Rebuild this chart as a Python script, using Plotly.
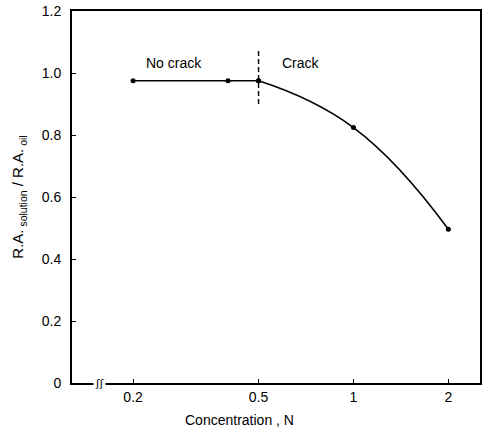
import math
import plotly.graph_objects as go

# Measured ratio vs. solution concentration
conc = [0.2, 0.4, 0.5, 1.0, 2.0]
ratio = [0.975, 0.975, 0.975, 0.824, 0.496]

# Boundary between the two regimes
boundary_x = [0.5, 0.5]
boundary_y = [0.90, 1.075]

x_tickvals = [0.2, 0.5, 1, 2]
x_ticktext = ["0.2", "0.5", "1", "2"]
y_tickvals = [0, 0.2, 0.4, 0.6, 0.8, 1.0, 1.2]
y_ticktext = ["0", "0.2", "0.4", "0.6", "0.8", "1.0", "1.2"]

regions = ["No crack", "Crack"]
region_x = [0.27, 0.68]
region_y = [1.033, 1.033]

FONT = "Liberation Sans, Arial, sans-serif"
k = conc.index(0.5)

fig = go.Figure()
# flat part (no crack): straight segments
fig.add_trace(go.Scatter(
    x=conc[:k + 1], y=ratio[:k + 1], mode="lines+markers",
    line=dict(color="black", width=1.6),
    marker=dict(color="black", size=5),
    showlegend=False, hoverinfo="skip",
))
# cracking part: smooth curve
fig.add_trace(go.Scatter(
    x=conc[k:], y=ratio[k:], mode="lines+markers",
    line=dict(color="black", width=1.6, shape="spline", smoothing=1.3),
    marker=dict(color="black", size=5),
    showlegend=False, hoverinfo="skip",
))
fig.add_trace(go.Scatter(
    x=boundary_x, y=boundary_y, mode="lines",
    line=dict(color="black", width=1.4, dash="5px,3px"),
    showlegend=False, hoverinfo="skip",
))

for label, rx, ry in zip(regions, region_x, region_y):
    fig.add_annotation(x=math.log10(rx), y=ry, text=label, showarrow=False,
                       font=dict(family=FONT, size=14, color="black"))

# axis break mark near the origin
fig.add_annotation(x=0, y=0, xref="paper", yref="y", xshift=21,
                   text="ʃʃ", showarrow=False,
                   font=dict(family="DejaVu Sans", size=11, color="black"),
                   bgcolor="white")

# x-axis title, set left of the plot centre
fig.add_annotation(x=(240 - 72) / 410, xref="paper", y=0, yref="paper",
                   yanchor="middle", yshift=-37,
                   text="Concentration , N", showarrow=False,
                   font=dict(family=FONT, size=14, color="black"))

fig.update_xaxes(
    type="log", range=[math.log10(0.128), math.log10(2.52)],
    tickvals=x_tickvals, ticktext=x_ticktext,
    ticks="inside", ticklen=4, tickcolor="black",
    showline=True, linecolor="black", linewidth=2, mirror=True,
    showgrid=False, zeroline=False,
    tickfont=dict(family=FONT, size=14, color="black"),
)
fig.update_yaxes(
    range=[0, 1.2],
    tickvals=y_tickvals, ticktext=y_ticktext,
    ticks="inside", ticklen=4, tickcolor="black",
    ticklabelstandoff=6,
    showline=True, linecolor="black", linewidth=2, mirror=True,
    showgrid=False, zeroline=False,
    tickfont=dict(family=FONT, size=14, color="black"),
    title=dict(text="R.A.<sub> solution</sub> / R.A.<sub> oil</sub>", standoff=14,
               font=dict(family=FONT, size=15, color="black")),
)
fig.update_layout(
    width=484, height=430,
    margin=dict(l=72, r=2, t=11, b=47),
    plot_bgcolor="white", paper_bgcolor="white",
)

fig.write_html("out.html")
